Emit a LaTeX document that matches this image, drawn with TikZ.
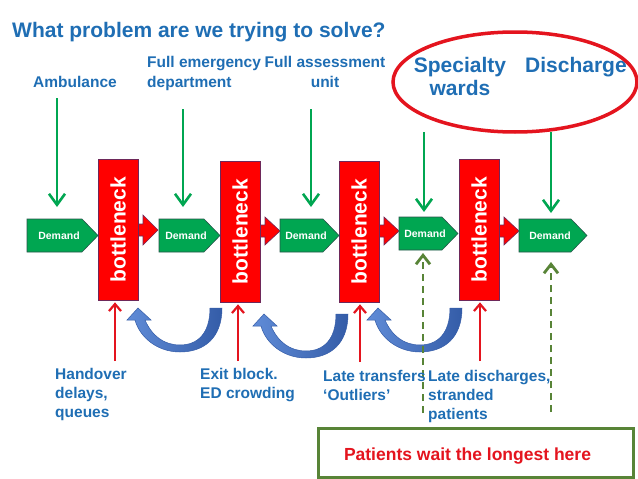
\documentclass[tikz,border=0pt]{standalone}
\usepackage{fontspec}
\setmainfont{Liberation Sans}
\usetikzlibrary{arrows.meta}
\definecolor{tblue}{RGB}{31,110,180}
\definecolor{ggreen}{RGB}{0,166,81}
\definecolor{dborder}{RGB}{40,85,75}
\definecolor{bred}{RGB}{255,0,0}
\definecolor{bborder}{RGB}{110,40,90}
\definecolor{ared}{RGB}{228,20,30}
\definecolor{olivegreen}{RGB}{88,132,55}
\definecolor{bluelight}{RGB}{96,140,215}
\definecolor{bluedark}{RGB}{52,92,168}
\begin{document}
\begin{tikzpicture}[x=1pt,y=-1pt,
  toplab/.style={font=\fontsize{15.5}{20}\selectfont\bfseries, text=tblue, inner sep=0},
  botlab/.style={font=\fontsize{15.5}{19}\selectfont\bfseries, text=tblue, inner sep=0, align=left, anchor=north west},
  bigblue/.style={font=\fontsize{21}{23}\selectfont\bfseries, text=tblue, inner sep=0},
  demandshape/.style={fill=ggreen, draw=dborder, line width=0.6pt},
  demandtext/.style={font=\fontsize{10.5}{12}\selectfont\bfseries, text=white, inner sep=0},
  bneck/.style={fill=bred, draw=bborder, line width=0.7pt, minimum width=40pt, minimum height=141pt, inner sep=0,
     font=\fontsize{21}{24}\selectfont\bfseries, text=white},
  outarrow/.style={fill=bred, draw=bborder, line width=0.6pt},
  garrow/.style={draw=ggreen, line width=2.6pt, -{Straight Barb[length=11pt,width=16pt]}},
  rarrow/.style={draw=ared, line width=2.2pt, -{Straight Barb[length=7pt,width=12pt]}},
  darrow/.style={draw=olivegreen, line width=2.8pt, dash pattern=on 7pt off 5pt, -{Straight Barb[length=9pt,width=14pt]}},
  uturn/.pic={
    \path[left color=bluelight, right color=bluedark, draw=bluedark, line width=0.5pt]
      (6,0) .. controls (6,30) and (-12,44) .. (-36,44)
      .. controls (-58,44) and (-76,30) .. (-81,12)
      -- (-89,12) -- (-78,0) -- (-65,12) -- (-71,12)
      .. controls (-64,28) and (-52,37) .. (-36,37)
      .. controls (-18,37) and (-6,25) .. (-6,0) -- cycle;
  }
]
\useasboundingbox (0,0) rectangle (638,479);
\fill[white] (0,0) rectangle (638,479);

% title
\node[anchor=base west, font=\fontsize{21}{25}\selectfont\bfseries, text=tblue, inner sep=0] (title) at (12,37) {What problem are we trying to solve?};

% top labels
\node[toplab, anchor=base west] (amb) at (33,87) {Ambulance};
\node[toplab, anchor=north west, align=left] (fed) at (147,55.8) {Full emergency\\department};
\node[toplab, anchor=north, align=center] (fau) at (325,55.8) {Full assessment\\unit};
\node[bigblue, anchor=north, align=center] (spec) at (460,56.7) {Specialty\\wards};
\node[bigblue, anchor=base west] (disc) at (525,72) {Discharge};
\draw[ared, line width=3.5pt] (515,82) ellipse [x radius=122pt, y radius=50pt];

% red block arrows out of bottlenecks
\path[outarrow] (136,224) -- (143,224) -- (143,215) -- (158,230) -- (143,245) -- (143,236) -- (136,236) -- cycle;
\path[outarrow] (258,225) -- (265,225) -- (265,217) -- (280,231) -- (265,245) -- (265,237) -- (258,237) -- cycle;
\path[outarrow] (377,225) -- (384,225) -- (384,217) -- (399,231) -- (384,245) -- (384,237) -- (377,237) -- cycle;
\path[outarrow] (497,225) -- (504,225) -- (504,217) -- (519,231) -- (504,245) -- (504,237) -- (497,237) -- cycle;

% bottlenecks
\node[bneck] (b1) at (118,229.5) {\rotatebox{90}{bottleneck}};
\node[bneck] (b2) at (240,231.5) {\rotatebox{90}{bottleneck}};
\node[bneck] (b3) at (359,231.5) {\rotatebox{90}{bottleneck}};
\node[bneck] (b4) at (479,229.5) {\rotatebox{90}{bottleneck}};

% demand pentagons
\path[demandshape] (27,219) -- (82,219) -- (98,235.5) -- (82,252) -- (27,252) -- cycle;
\node[demandtext] (d1) at (59,235.5) {Demand};
\path[demandshape] (159,219) -- (204,219) -- (220,235.5) -- (204,252) -- (159,252) -- cycle;
\node[demandtext] (d2) at (186,235.5) {Demand};
\path[demandshape] (280,219) -- (323,219) -- (339,235.5) -- (323,252) -- (280,252) -- cycle;
\node[demandtext] (d3) at (306,235.5) {Demand};
\path[demandshape] (399,217) -- (442,217) -- (458,233.5) -- (442,250) -- (399,250) -- cycle;
\node[demandtext] (d4) at (425,233.5) {Demand};
\path[demandshape] (519,219) -- (571,219) -- (587,235.5) -- (571,252) -- (519,252) -- cycle;
\node[demandtext] (d5) at (550,235.5) {Demand};

% green demand arrows
\coordinate (g1s) at (57,98);  \coordinate (g1e) at (57,207);
\coordinate (g2s) at (183,109); \coordinate (g2e) at (183,207);
\coordinate (g3s) at (311,109); \coordinate (g3e) at (311,207);
\coordinate (g4s) at (424,132); \coordinate (g4e) at (424,212);
\coordinate (g5s) at (551,132); \coordinate (g5e) at (551,213);
\draw[garrow] (g1s) -- (g1e);
\draw[garrow] (g2s) -- (g2e);
\draw[garrow] (g3s) -- (g3e);
\draw[garrow] (g4s) -- (g4e);
\draw[garrow] (g5s) -- (g5e);

% red arrows into bottlenecks
\coordinate (r1) at (115,361);
\coordinate (r2) at (238,361);
\coordinate (r3) at (360,362);
\coordinate (r4) at (480,361);
\draw[rarrow, shorten >=2pt] (r1) -- (r1 |- b1.south);
\draw[rarrow, shorten >=2pt] (r2) -- (r2 |- b2.south);
\draw[rarrow, shorten >=2pt] (r3) -- (r3 |- b3.south);
\draw[rarrow, shorten >=2pt] (r4) -- (r4 |- b4.south);

% blue u-turn arrows
\pic (u1) at (216,308) {uturn};
\pic (u2) at (342,314) {uturn};
\pic (u3) at (456,308) {uturn};

% dashed arrows
\coordinate (k1) at (423,413); \coordinate (k1e) at (423,253);
\coordinate (k2) at (551,412); \coordinate (k2e) at (551,262);
\draw[darrow] (k1) -- (k1e);
\draw[darrow] (k2) -- (k2e);

% bottom labels
\node[botlab] (l1) at (55,367.8) {Handover\\delays,\\queues};
\node[botlab] (l2) at (200,367.8) {Exit block.\\ED crowding};
\node[botlab] (l3) at (323,369.8) {Late transfers\\‘Outliers’};
\node[botlab] (l4) at (428,369.8) {Late discharges,\\stranded\\patients};

% bottom box
\node[draw=olivegreen, line width=3pt, minimum width=315pt, minimum height=49pt, inner sep=0] (box) at (475.5,452.5) {};
\node[anchor=base, font=\fontsize{17.5}{20}\selectfont\bfseries, text=ared, inner sep=0] (boxtext) at (467.5,460) {Patients wait the longest here};
\end{tikzpicture}
\end{document}
